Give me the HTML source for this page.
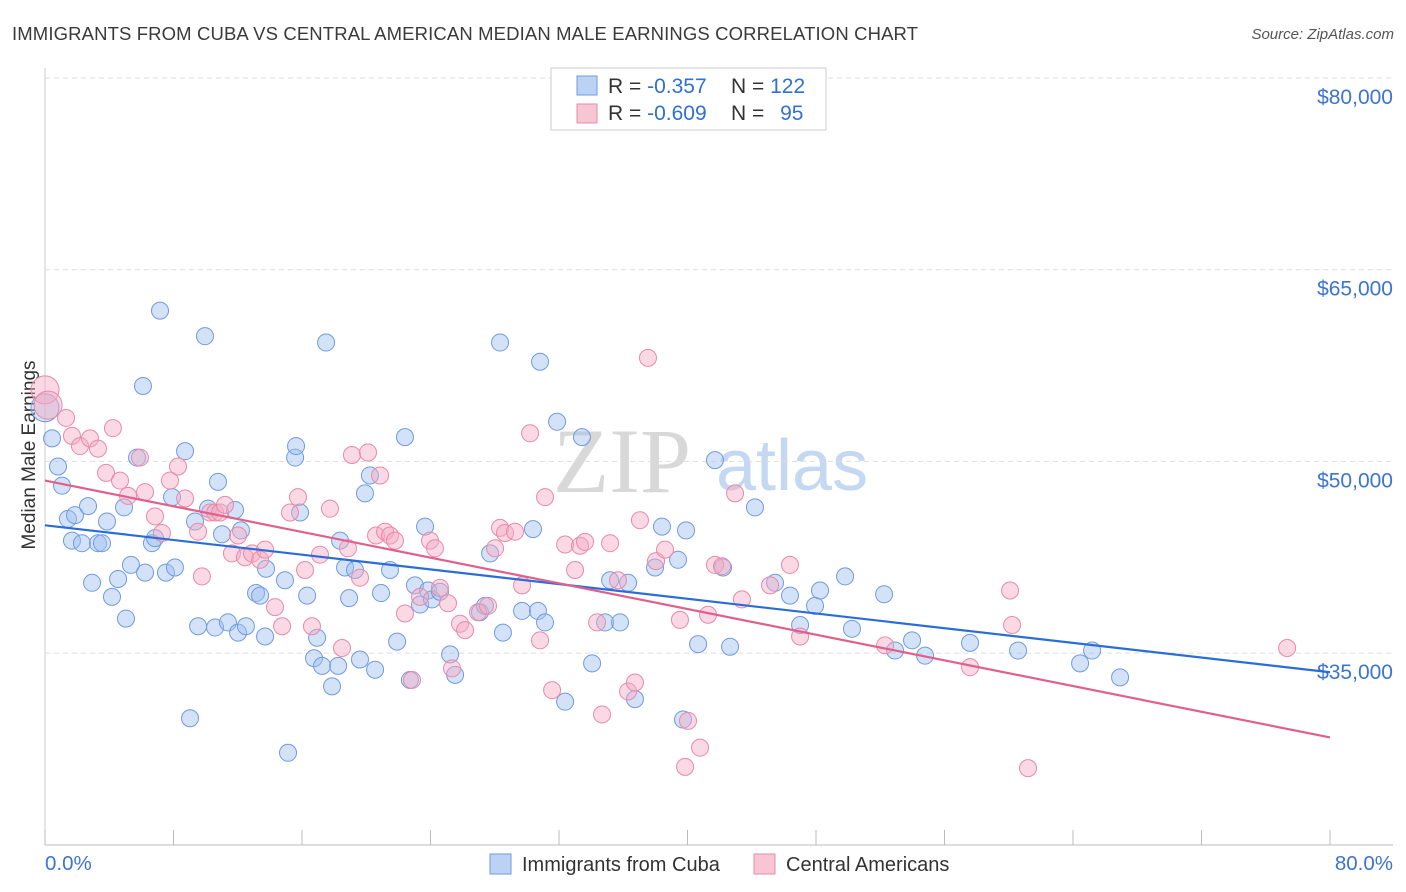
<!DOCTYPE html>
<html><head><meta charset="utf-8">
<style>
body{margin:0;background:#fff;font-family:"Liberation Sans",sans-serif;}
#wrap{position:relative;width:1406px;height:892px;overflow:hidden;}
</style></head>
<body>
<div id="wrap">
<svg id="chart" width="1406" height="892" xmlns="http://www.w3.org/2000/svg">
<text x="12" y="40" font-size="18.5" fill="#3a3a3a" textLength="906">IMMIGRANTS FROM CUBA VS CENTRAL AMERICAN MEDIAN MALE EARNINGS CORRELATION CHART</text>
<text x="1394" y="39" font-size="15" fill="#555" font-style="italic" text-anchor="end">Source: ZipAtlas.com</text>
<text x="35" y="455" font-size="19" fill="#333" text-anchor="middle" transform="rotate(-90 35 455)">Median Male Earnings</text>
<g>
<text x="553" y="492" font-size="92" fill="#d8d8d8" font-family="Liberation Serif,serif">ZIP</text>
<text x="716" y="490" font-size="72" fill="#c4d8f2">atlas</text>
</g>
<g id="grid"></g><g id="axes"></g><g id="pts"></g><g id="lines"></g>
<g>
<rect x="551" y="68" width="275" height="62" fill="#fff" stroke="#ccc"/>
<rect x="577" y="76" width="20" height="19" fill="#bcd2f5" stroke="#6f9be0"/>
<rect x="577" y="104" width="20" height="19" fill="#f7c5d4" stroke="#e88aa8"/>
<text x="608" y="93" font-size="21" fill="#333">R = <tspan fill="#2f6fd6">-0.357</tspan></text>
<text x="731" y="93" font-size="21" fill="#333">N = <tspan fill="#2f6fd6">122</tspan></text>
<text x="608" y="120" font-size="21" fill="#333">R = <tspan fill="#2f6fd6">-0.609</tspan></text>
<text x="731" y="120" font-size="21" fill="#333">N = <tspan fill="#2f6fd6" dx="10">95</tspan></text>
</g>
<g>
<rect x="490" y="854" width="21" height="20" fill="#bcd2f5" stroke="#6f9be0"/>
<text x="522" y="871" font-size="20" fill="#333">Immigrants from Cuba</text>
<rect x="754" y="854" width="21" height="20" fill="#f7c5d4" stroke="#e88aa8"/>
<text x="786" y="871" font-size="20" fill="#333">Central Americans</text>
</g>
</svg>
</div>
<script>
const yTicks=[80000,65000,50000,35000];
const yTickLabels=["$80,000","$65,000","$50,000","$35,000"];
const xTickLabels=["0.0%","80.0%"];
const cubaX=[0.44,0.81,1.06,1.43,1.87,1.68,2.30,2.68,2.93,3.30,3.55,3.86,4.17,4.55,4.92,5.04,5.35,5.73,6.10,6.23,6.66,6.85,7.16,7.53,7.91,8.09,8.72,9.03,9.34,9.53,9.96,10.15,10.59,10.77,11.02,11.39,11.83,12.02,12.20,12.51,13.14,13.39,13.70,13.76,14.94,15.13,15.57,15.63,15.88,16.32,16.75,16.94,17.25,17.50,17.87,18.25,18.37,18.68,18.93,19.30,19.61,19.92,20.23,20.55,20.92,21.48,21.92,22.41,22.72,23.03,23.35,23.66,23.85,24.09,24.59,25.22,25.53,27.08,27.39,27.71,28.33,28.51,29.70,30.38,30.69,30.82,31.13,31.88,32.38,33.43,34.06,34.87,35.18,35.80,36.30,36.73,37.98,38.41,39.41,39.91,39.72,40.66,41.71,42.21,42.65,44.20,45.45,46.38,47.01,47.94,48.25,49.81,50.24,52.24,52.92,53.98,54.79,57.59,60.58,64.44,65.19,66.93];
const cubaY=[51800,49600,48100,45500,45800,43800,43600,46500,40500,43600,43600,45300,39400,40800,46400,37700,41900,50300,55900,41300,43600,44000,61800,41300,47200,41700,50800,29900,45300,37100,59800,46300,37000,48400,44300,37400,46200,36600,44600,37100,39700,39500,36300,41600,40700,27200,50300,51200,46000,39500,34600,36200,34000,59300,32400,34000,43800,41700,39300,41500,34500,47500,48900,33700,39700,41500,35900,51900,32900,40300,38800,44900,39900,39200,39800,34900,33300,38200,38700,42800,59300,36600,38300,44700,38300,57800,37400,53100,31200,51900,34200,37400,40700,37400,40500,31400,41700,44900,42300,44600,29800,35700,50100,41700,35500,46400,40500,39500,37200,38700,39900,41000,36900,39600,35200,36000,34800,35800,35200,34200,35200,33100];
const centralX=[1.31,1.68,2.18,2.80,3.30,3.80,4.23,4.67,5.17,5.91,6.23,6.85,7.28,7.78,8.28,8.72,9.53,9.77,10.27,10.59,10.90,11.21,11.64,12.02,12.45,12.89,13.39,13.70,14.32,14.76,15.25,15.75,16.19,16.62,17.12,17.74,18.49,18.86,19.11,19.61,20.11,20.61,20.86,21.17,21.48,21.79,22.41,22.85,23.35,23.97,24.28,24.59,25.09,25.34,25.84,26.15,26.96,27.58,28.02,28.33,28.64,29.26,29.70,30.20,30.82,31.13,31.57,32.38,33.00,33.31,33.62,34.37,34.68,35.18,35.67,36.30,36.73,37.04,37.54,38.04,38.60,39.53,39.85,40.03,40.78,41.28,41.71,42.15,42.96,43.39,45.14,46.38,47.01,52.30,57.59,60.08,60.21,61.20,77.33];
const centralY=[53400,52000,51200,51800,51000,49100,52600,48500,47300,50300,47600,45700,44400,48500,49600,47100,44500,41000,46000,46000,46000,46600,42800,44200,42500,42800,42300,43100,38600,37100,46000,47200,41500,37100,42700,46300,35400,43200,50500,40900,50700,44200,48900,44500,44200,43800,38100,32900,39400,43800,43200,40100,38900,33800,37300,36800,38200,38700,43200,44800,44400,44500,40300,52200,36000,47200,32100,43500,41500,43400,43700,37400,30200,43600,40700,32000,32700,45400,58100,42200,43100,37600,26100,29700,27600,38000,41900,41800,47500,39200,40300,41900,36300,35600,33900,39900,37200,26000,35400];
const bigX=[0.0,0.0,0.19];
const bigY=[54200,55600,54400];
const bigSeries=["cuba","central","central"];
const cubaTrend=[45000,33500];
const centralTrend=[48500,28400];
const trendX=[0,80];

const NS="http://www.w3.org/2000/svg";
const X0=45,X1=1330,Y80=78,PXPER=191.7/15000;
const xs=v=>X0+(v/80)*(X1-X0);
const ys=v=>Y80+(80000-v)*PXPER;
function mk(tag,attrs,parent){const e=document.createElementNS(NS,tag);for(const k in attrs)e.setAttribute(k,attrs[k]);parent.appendChild(e);return e;}
const grid=document.getElementById('grid'),axes=document.getElementById('axes'),pts=document.getElementById('pts'),lines=document.getElementById('lines');
yTicks.forEach((t,i)=>{
  const l=mk('line',{x1:45,x2:1393,y1:ys(t),y2:ys(t),stroke:'#ddd','stroke-dasharray':'5,4'},grid);
  
  
  const tx=mk('text',{x:1393,y:ys(t)+26,'font-size':21,fill:'#3d74d4','text-anchor':'end'},grid);
  tx.textContent=yTickLabels[i];
  
  
});
const ax=mk('line',{x1:45,x2:1393,y1:845,y2:845,stroke:'#bbb'},axes);


const ay=mk('line',{x1:45,x2:45,y1:68,y2:845,stroke:'#ccc'},axes);


for(let i=0;i<=10;i++){
  const t=mk('line',{x1:xs(i*8),x2:xs(i*8),y1:830,y2:845,stroke:'#bbb'},axes);
  
  
}
const xl0=mk('text',{x:45,y:870,'font-size':20.5,fill:'#3d74d4'},axes);xl0.textContent=xTickLabels[0];


const xl1=mk('text',{x:1393,y:870,'font-size':20.5,fill:'#3d74d4','text-anchor':'end'},axes);xl1.textContent=xTickLabels[1];


const sty={cuba:{fill:'rgba(160,190,240,0.45)',stroke:'#6f9be0'},central:{fill:'rgba(244,170,195,0.45)',stroke:'#e88aa8'}};
function dots(X,Y,s,name){X.forEach((v,i)=>{
  const c=mk('circle',{cx:xs(v),cy:ys(Y[i]),r:8.5,fill:sty[s].fill,stroke:sty[s].stroke,'stroke-width':1},pts);
  
  
});}
dots(cubaX,cubaY,'cuba','cuba-point');
dots(centralX,centralY,'central','central-american-point');
bigX.forEach((v,i)=>{
  const s=bigSeries[i];
  const c=mk('circle',{cx:xs(v),cy:ys(bigY[i]),r:14,fill:sty[s].fill,stroke:sty[s].stroke},pts);
  
  
});
const l1=mk('line',{x1:xs(trendX[0]),y1:ys(cubaTrend[0]),x2:xs(trendX[1]),y2:ys(cubaTrend[1]),stroke:'#2a6dd9','stroke-width':2.2},lines);


const l2=mk('line',{x1:xs(trendX[0]),y1:ys(centralTrend[0]),x2:xs(trendX[1]),y2:ys(centralTrend[1]),stroke:'#e0608a','stroke-width':2.2},lines);


</script>
</body></html>
